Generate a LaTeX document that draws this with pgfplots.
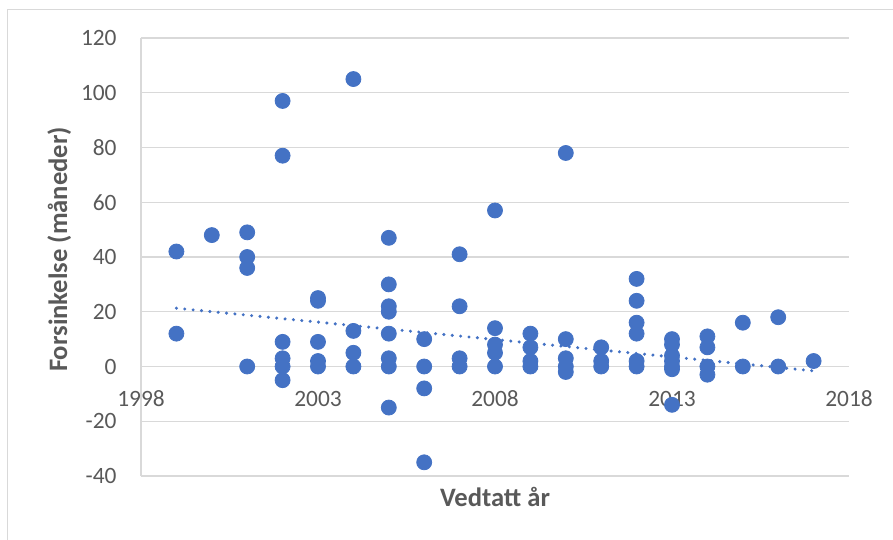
\documentclass[border=0pt]{standalone}
\usepackage{fontspec}
\setmainfont{Carlito}
\usepackage{pgfplots}
\pgfplotsset{compat=1.18}
\definecolor{dotblue}{HTML}{4472C4}
\definecolor{gridgray}{HTML}{D9D9D9}
\definecolor{textgray}{HTML}{595959}

\begin{document}
\begin{tikzpicture}
\begin{axis}[
    scale only axis, width=354pt, height=219pt,
    xmin=1998, xmax=2018, ymin=-40, ymax=120,
    xtick={1998,2003,...,2018}, ytick={-40,-20,...,120},
    axis y line=left, axis x line=middle,
    hide obscured x ticks=false, hide obscured y ticks=false,
    axis line style={draw=gridgray, line width=0.7pt, -},
    ymajorgrids, major grid style={draw=gridgray, line width=0.7pt},
    major tick length=0pt,
    /pgf/number format/assume math mode=true,
    /pgf/number format/1000 sep={},
    tick label style={font=\fontsize{11.7}{14}\selectfont, text=textgray},
    xticklabel style={anchor=north, inner sep=0pt, yshift=-12pt},
    yticklabel style={anchor=east, inner sep=0pt, xshift=-12pt},
    xlabel={Vedtatt år}, ylabel={Forsinkelse (måneder)},
    every axis x label/.style={at={(axis description cs:0.5,0)}, anchor=base, yshift=-15pt,
        font=\fontsize{13.3}{16}\selectfont\bfseries, text=textgray},
    every axis y label/.style={at={(axis description cs:-0.1045,0.2215)}, rotate=90, anchor=base west,
        font=\fontsize{13.3}{16}\selectfont\bfseries, text=textgray},
    clip=false,
]
\addplot[dotblue, only marks, mark=*, mark size=3.75pt, mark options={draw=dotblue, fill=dotblue}] table {
x y
1999 42
1999 12
2000 48
2001 49
2001 40
2001 36
2001 0
2002 97
2002 77
2002 9
2002 3
2002 0
2002 -5
2003 25
2003 24
2003 9
2003 2
2003 0
2004 105
2004 13
2004 5
2004 0
2005 47
2005 30
2005 22
2005 20
2005 12
2005 3
2005 0
2005 -15
2006 10
2006 0
2006 -8
2006 -35
2007 41
2007 22
2007 3
2007 0
2008 57
2008 14
2008 8
2008 5
2008 0
2009 12
2009 7
2009 2
2009 0
2010 78
2010 10
2010 3
2010 0
2010 -2
2011 7
2011 2
2011 0
2012 32
2012 24
2012 16
2012 12
2012 2
2012 0
2013 10
2013 8
2013 4
2013 2
2013 0
2013 -1
2013 -14
2014 11
2014 7
2014 0
2014 -3
2015 16
2015 0
2016 18
2016 0
2017 2
};
% linear trendline (endpoints)
\addplot[dotblue, line width=1.7pt, line cap=round, dash pattern=on 0pt off 4.2pt] coordinates {(1999,21.3) (2017,-1.6)};
\coordinate (sw) at (rel axis cs:0,0);
\end{axis}
\draw[gridgray, line width=0.7pt] ([shift={(-66.75pt,-32pt)}]sw) -- ([shift={(-66.75pt,233.25pt)}]sw) -- ([shift={(376pt,233.25pt)}]sw);
\pgfresetboundingbox
\path ([shift={(-70.5pt,-32pt)}]sw) rectangle ([shift={(376pt,238pt)}]sw);
\end{tikzpicture}
\end{document}
